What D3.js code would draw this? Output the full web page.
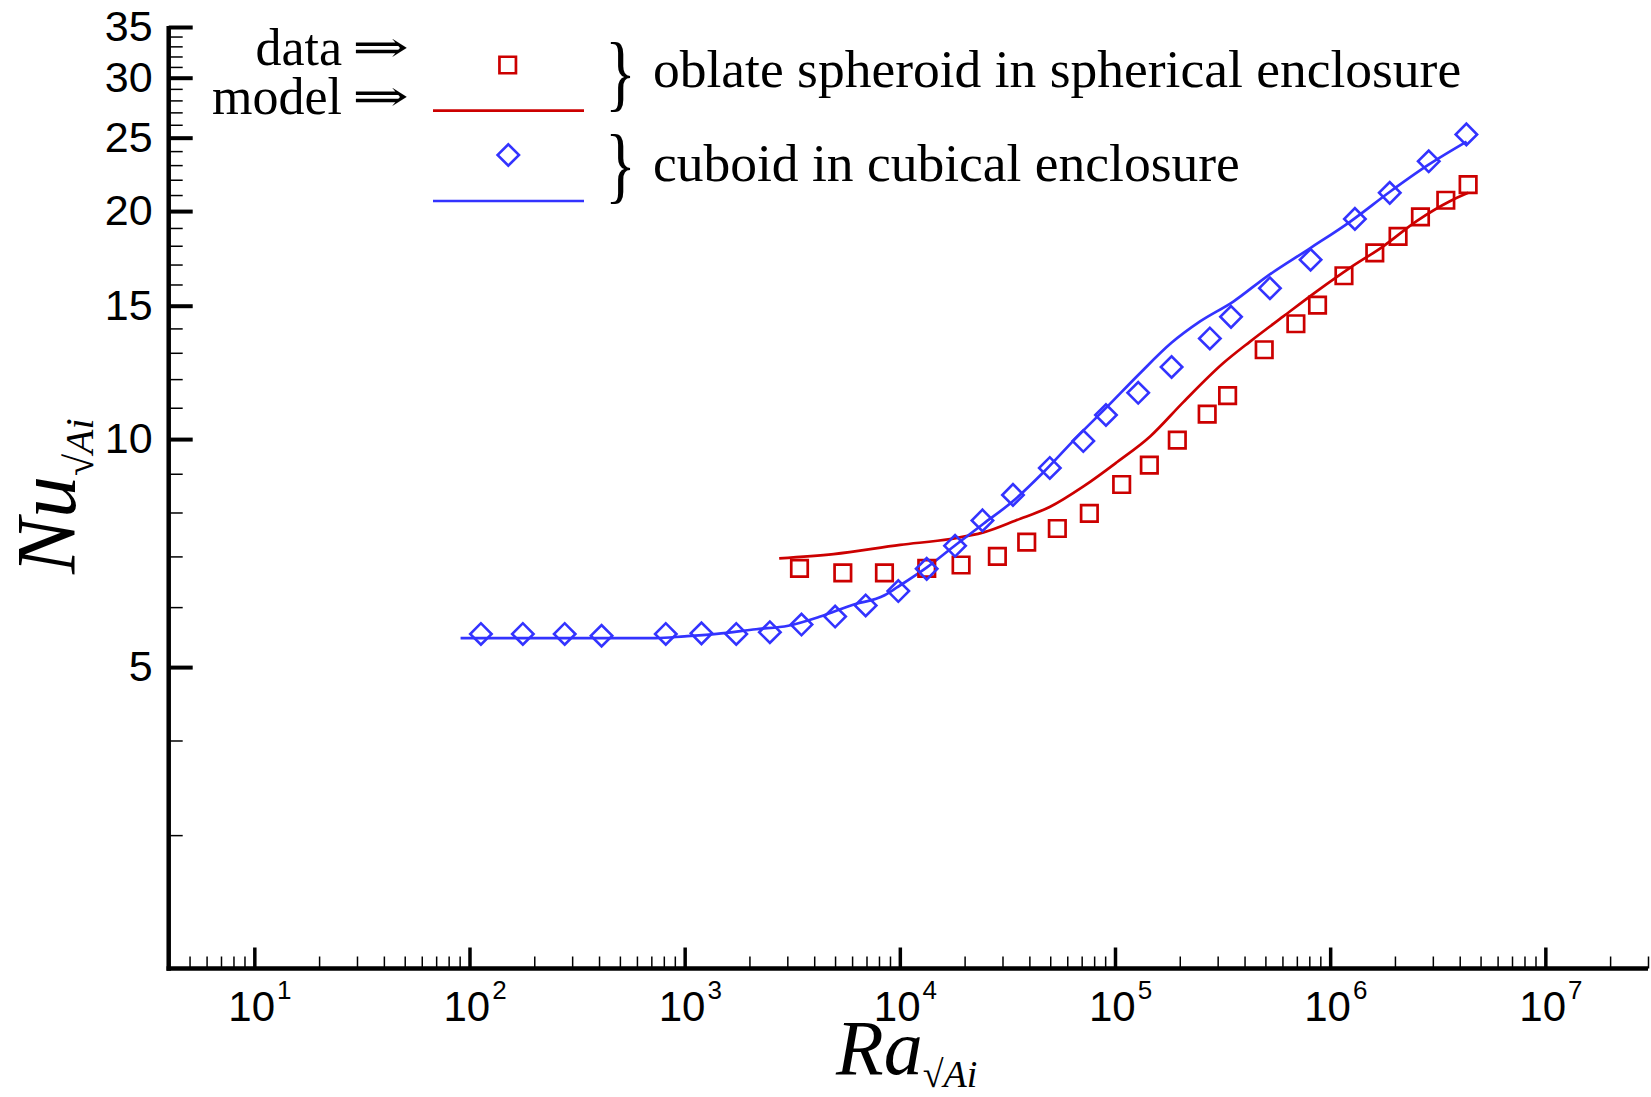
<!DOCTYPE html>
<meta charset="utf-8">
<style>
  body { margin: 0; background: #fff; }
  svg { display: block; background: #fff; }
  .num { font-family: "Liberation Sans", Arial, sans-serif; font-size: 42px; fill: #000; }
  .serif { font-family: "Liberation Serif", "Times New Roman", serif; fill: #000; }
</style>

<script src="https://d3js.org/d3.v7.min.js"></script>

<svg id="chart" width="1651" height="1097"></svg>

<script>

// oblate spheroid in spherical enclosure : data (squares) and model (line)
const sphereRa = [3417, 5433, 8483, 13340, 19260, 28400, 38880, 53950, 75990, 107400, 144400, 194800,
                  268200, 333700, 493700, 692900, 873500, 1159000, 1612000, 2068000, 2628000, 3447000, 4377000];
const sphereNu = [6.75, 6.66, 6.66, 6.75, 6.82, 7.00, 7.31, 7.62, 7.98, 8.71, 9.24, 9.97,
                  10.79, 11.41, 13.12, 14.20, 15.03, 16.43, 17.61, 18.52, 19.65, 20.67, 21.67];
const sphereModelRa = [2750, 4920, 10040, 17140, 24480, 34990, 49960, 71330, 102000, 145600, 207800,
                       318800, 424300, 605600, 865500, 1236000, 1765000, 2522000, 3601000, 4380000];
const sphereModelNu = [6.96, 7.05, 7.25, 7.38, 7.53, 7.82, 8.14, 8.66, 9.32, 10.08, 11.19,
                       12.60, 13.45, 14.52, 15.67, 16.83, 17.97, 19.40, 20.61, 21.14];

// cuboid in cubical enclosure : data (diamonds) and model (line)
const cubeRa = [113, 177, 277, 411, 817, 1197, 1737, 2489, 3491, 5003, 6939, 9840, 13330, 18060,
                24210, 33560, 49770, 71240, 90780, 128200, 183200, 276000, 346100, 524800, 810900,
                1303000, 1892000, 2871000, 4296000];
const cubeNu = [5.53, 5.53, 5.53, 5.50, 5.53, 5.54, 5.53, 5.56, 5.69, 5.83, 6.03, 6.30, 6.74, 7.23,
                7.81, 8.44, 9.16, 9.94, 10.76, 11.51, 12.45, 13.58, 14.50, 15.82, 17.25,
                19.53, 21.14, 23.27, 25.25];
const cubeModelRa = [90.9, 736, 1000, 1409, 2147, 3029, 4271, 6017, 8493, 9694, 13360, 18410, 24470,
                     33730, 46500, 66450, 91600, 130000, 183000, 248500, 354800, 507300, 805800,
                     1236000, 1896000, 2856000, 4307000];
const cubeModelNu = [5.46, 5.46, 5.49, 5.53, 5.61, 5.67, 5.83, 6.04, 6.22, 6.37, 6.77, 7.27, 7.73,
                     8.29, 9.04, 10.06, 11.02, 12.20, 13.40, 14.30, 15.19, 16.39, 17.86,
                     19.36, 21.21, 23.01, 24.70];

const yTickLabels = [5, 10, 15, 20, 25, 30, 35];
const xTickExponents = [1, 2, 3, 4, 5, 6, 7];

const RED = "#cc0000";
const BLUE = "#3333ff";

const svg = d3.select("#chart");

const x = d3.scaleLog().domain([4, 3e7]).range([168.7, 1648]);
const y = d3.scaleLog().domain([2, 35]).range([968.5, 27]);
const y0 = y(2), x0 = x(4);

// minor ticks: every integer multiple inside each decade
const xMinor = [];
for (let e = 0; e <= 7; e++) {
  for (let m = 2; m <= 9; m++) {
    const v = m * Math.pow(10, e);
    if (v > 4 && v <= 3e7) xMinor.push(v);
  }
}
const yMinor = d3.range(3, 35).filter(v => yTickLabels.indexOf(v) < 0);

// x axis ticks (pointing into the plot)
svg.append("g")
    .attr("transform", `translate(0,${y0})`)
    .call(d3.axisBottom(x).tickValues(xMinor).tickSize(-12).tickFormat(""))
    .call(g => g.select(".domain").remove())
    .selectAll("line").attr("stroke", "#000").attr("stroke-width", 1.5);

svg.append("g")
    .attr("transform", `translate(0,${y0})`)
    .call(d3.axisBottom(x).tickValues(xTickExponents.map(d => Math.pow(10, d))).tickSize(-21).tickFormat(""))
    .call(g => g.select(".domain").remove())
    .selectAll("line").attr("stroke", "#000").attr("stroke-width", 3.5);

// x labels 10^n
const xl = svg.append("g").selectAll("text")
    .data(xTickExponents)
    .join("text")
    .attr("class", "num")
    .attr("x", d => x(Math.pow(10, d)) - 26)
    .attr("y", 1020.7);
xl.append("tspan").text("10");
xl.append("tspan").attr("dy", -22).attr("dx", 2).attr("font-size", 26).text(d => d);

// y axis ticks
svg.append("g")
    .attr("transform", `translate(${x0},0)`)
    .call(d3.axisLeft(y).tickValues(yMinor).tickSize(-14).tickFormat(""))
    .call(g => g.select(".domain").remove())
    .selectAll("line").attr("stroke", "#000").attr("stroke-width", 1.5);

const gy = svg.append("g")
    .attr("transform", `translate(${x0},0)`)
    .call(d3.axisLeft(y).tickValues(yTickLabels).tickSize(-24).tickPadding(16).tickFormat(d3.format("d")));
gy.select(".domain").remove();
gy.selectAll("line").attr("stroke", "#000").attr("stroke-width", 4);
gy.selectAll("text").attr("class", "num").attr("fill", "#000")
    .style("font-size", "43px").style("font-family", "'Liberation Sans', Arial, sans-serif");

// axis lines
svg.append("line").attr("x1", x0).attr("x2", x0).attr("y1", 26).attr("y2", y0 + 2.2)
    .attr("stroke", "#000").attr("stroke-width", 4.5);
svg.append("line").attr("x1", x0 - 2.2).attr("x2", 1648).attr("y1", y0).attr("y2", y0)
    .attr("stroke", "#000").attr("stroke-width", 4.5);

// model curves
const line = d3.line()
    .x(d => x(d[0]))
    .y(d => y(d[1]))
    .curve(d3.curveMonotoneX);

svg.append("path")
    .datum(d3.zip(sphereModelRa, sphereModelNu))
    .attr("d", line)
    .attr("fill", "none").attr("stroke", RED).attr("stroke-width", 2.7);

svg.append("path")
    .datum(d3.zip(cubeModelRa, cubeModelNu))
    .attr("d", line)
    .attr("fill", "none").attr("stroke", BLUE).attr("stroke-width", 2.7);

// data markers
const square = d3.symbol(d3.symbolSquare, 272);
const diamond = d3.symbol(d3.symbolSquare, 229);

svg.append("g").selectAll("path")
    .data(d3.zip(sphereRa, sphereNu))
    .join("path")
    .attr("d", square)
    .attr("transform", d => `translate(${x(d[0])},${y(d[1])})`)
    .attr("fill", "none").attr("stroke", RED).attr("stroke-width", 2.7);

svg.append("g").selectAll("path")
    .data(d3.zip(cubeRa, cubeNu))
    .join("path")
    .attr("d", diamond)
    .attr("transform", d => `translate(${x(d[0])},${y(d[1])}) rotate(45)`)
    .attr("fill", "none").attr("stroke", BLUE).attr("stroke-width", 2.6);

// legend
const legend = svg.append("g");

legend.append("text").attr("class", "serif").attr("font-size", 52)
    .attr("text-anchor", "end").attr("x", 342).attr("y", 65).text("data");
legend.append("text").attr("class", "serif").attr("font-size", 52)
    .attr("text-anchor", "end").attr("x", 342).attr("y", 114).text("model");
legend.selectAll(".arrow")
    .data([65, 114])
    .join("text")
    .attr("class", "arrow")
    .attr("font-family", "'DejaVu Serif', serif")
    .attr("font-size", 44)
    .attr("transform", d => `translate(352,${d - 3}) scale(1.55,1)`)
    .text("\u21D2");

legend.append("path").attr("d", square)
    .attr("transform", "translate(507.7,65)")
    .attr("fill", "none").attr("stroke", RED).attr("stroke-width", 2.7);
legend.append("line").attr("x1", 433).attr("x2", 584).attr("y1", 110.7).attr("y2", 110.7)
    .attr("stroke", RED).attr("stroke-width", 2.7);

legend.append("path").attr("d", diamond)
    .attr("transform", "translate(508.3,155) rotate(45)")
    .attr("fill", "none").attr("stroke", BLUE).attr("stroke-width", 2.6);
legend.append("line").attr("x1", 433).attr("x2", 584).attr("y1", 201).attr("y2", 201)
    .attr("stroke", BLUE).attr("stroke-width", 2.7);

legend.selectAll(".brace")
    .data([101, 193])
    .join("text")
    .attr("class", "serif brace")
    .attr("font-size", 56)
    .attr("transform", d => `translate(605,${d}) scale(1.15,1.5)`)
    .text("}");

legend.append("text").attr("class", "serif").attr("font-size", 53.5)
    .attr("x", 653).attr("y", 87).text("oblate spheroid in spherical enclosure");
legend.append("text").attr("class", "serif").attr("font-size", 53.5)
    .attr("x", 653).attr("y", 181).text("cuboid in cubical enclosure");

// axis titles
const xt = svg.append("text").attr("class", "serif")
    .attr("x", 836).attr("y", 1074).attr("font-size", 78);
xt.append("tspan").attr("font-style", "italic").text("Ra");
xt.append("tspan").attr("font-size", 38).attr("dy", 13).text("\u221A");
xt.append("tspan").attr("font-size", 38).attr("font-style", "italic").text("Ai");

const yt = svg.append("text").attr("class", "serif")
    .attr("transform", "translate(75,574) rotate(-90)")
    .attr("font-size", 84);
yt.append("tspan").attr("font-style", "italic").text("Nu");
yt.append("tspan").attr("font-size", 40).attr("dy", 18).text("\u221A");
yt.append("tspan").attr("font-size", 40).attr("font-style", "italic").text("Ai");

</script>
